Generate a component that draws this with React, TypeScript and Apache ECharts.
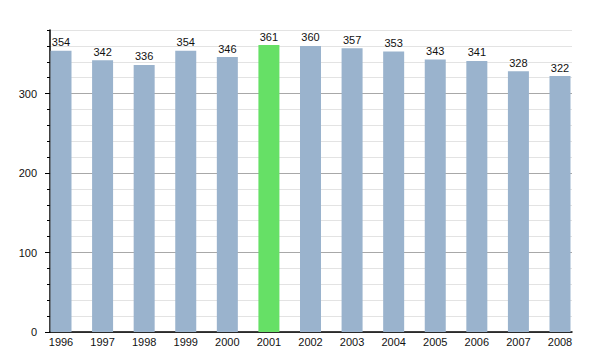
import React, { useEffect, useRef } from "react";
import * as echarts from "echarts";

const years = ["1996", "1997", "1998", "1999", "2000", "2001", "2002", "2003", "2004", "2005", "2006", "2007", "2008"];
const values = [354, 342, 336, 354, 346, 361, 360, 357, 353, 343, 341, 328, 322];
const highlightYear = "2001";
const yMajorTicks = [0, 100, 200, 300];
const yMax = 380;

export default function App() {
  const ref = useRef<HTMLDivElement>(null);
  useEffect(() => {
    const chart = echarts.init(ref.current!, null, { renderer: "svg" });
    const font = "'Liberation Sans', Arial, sans-serif";
    const minorColors = ["#a8a8a8", "#e3e3e3", "#e3e3e3", "#e3e3e3", "#e3e3e3"];
    chart.setOption({
      animation: false,
      backgroundColor: "#fff",
      grid: [
        { left: 61, right: 40, top: 30, bottom: 18 },
        { left: 50, right: 28, top: 30, bottom: 18 },
      ],
      xAxis: [
        {
          type: "category",
          gridIndex: 0,
          position: "bottom",
          data: years,
          boundaryGap: false,
          axisLine: { show: false },
          axisTick: { show: false },
          axisLabel: { color: "#111", fontSize: 11, fontFamily: font, margin: 4 },
          splitLine: { show: false },
        },
        {
          type: "value",
          gridIndex: 1,
          position: "bottom",
          min: 0,
          max: 1,
          axisLine: { show: true, lineStyle: { color: "#000", width: 1.5 } },
          axisTick: { show: false },
          axisLabel: { show: false },
          splitLine: { show: false },
        },
      ],
      yAxis: [
        {
          type: "value",
          gridIndex: 0,
          position: "left",
          min: 0,
          max: yMax,
          show: false,
        },
        {
          type: "value",
          gridIndex: 1,
          position: "left",
          offset: 0,
          min: 0,
          max: yMax,
          interval: 20,
          axisLine: { show: true, lineStyle: { color: "#000", width: 1.5 } },
          axisTick: { show: true, length: 3, lineStyle: { color: "#000" } },
          axisLabel: { show: false },
          splitLine: { show: true, lineStyle: { color: minorColors, width: 1 } },
        },
        {
          type: "value",
          gridIndex: 1,
          position: "left",
          offset: 0,
          min: 0,
          max: yMax,
          axisLine: { show: false },
          axisTick: { show: true, length: 5, customValues: yMajorTicks, lineStyle: { color: "#000" } },
          axisLabel: { show: true, customValues: yMajorTicks, color: "#111", fontSize: 11, fontFamily: font, margin: 13 },
          splitLine: { show: false },
        },
      ],
      series: [
        {
          type: "bar",
          xAxisIndex: 0,
          yAxisIndex: 0,
          barWidth: 21,
          data: values.map((v, i) => ({
            value: v,
            itemStyle: { color: years[i] === highlightYear ? "#66e066" : "#9ab3cd" },
          })),
          label: {
            show: true,
            position: "top",
            distance: 3,
            color: "#111",
            fontSize: 11,
            fontFamily: font,
          },
        },
      ],
    });
    return () => chart.dispose();
  }, []);
  return <div ref={ref} style={{ position: "fixed", left: 0, top: 0, width: 600, height: 350 }} />;
}
